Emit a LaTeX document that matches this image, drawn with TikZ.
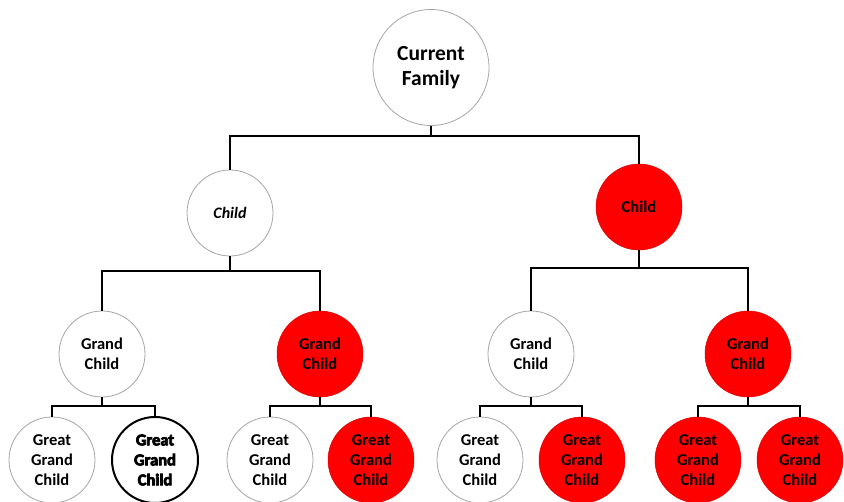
\documentclass[tikz,border=0pt]{standalone}
\usepackage{fontspec}
\setmainfont{Carlito}
\newfontfamily\heavyfont{Carlito Bold}[FakeBold=4.5]
\tikzset{
  member/.style={circle, minimum size=86pt, inner sep=0pt, align=center, text=black,
    font=\bfseries\fontsize{16.5}{20}\selectfont},
  plain/.style={member, draw=black!35, line width=0.8pt, fill=white},
  marked/.style={member, draw=red!85!black, line width=0.5pt, fill=red},
  link/.style={line width=2pt}
}
\begin{document}
\begin{tikzpicture}[x=1pt, y=-1pt]
  \useasboundingbox (0,0) rectangle (844,502);

  % generations, top to bottom
  \node[plain, minimum size=116pt, font=\bfseries\fontsize{21.5}{25}\selectfont] (root) at (431,67.5) {Current\\Family};
  \node[plain, font=\bfseries\itshape\fontsize{16}{20}\selectfont] (c1) at (230,213) {Child};
  \node[marked] (c2) at (639,207) {Child};

  \node[plain] (g1) at (102,354) {Grand\\Child};
  \node[marked] (g2) at (320,354) {Grand\\Child};
  \node[plain] (g3) at (531,354) {Grand\\Child};
  \node[marked] (g4) at (748,354) {Grand\\Child};

  \node[plain] (gg1) at (52,460) {Great\\Grand\\Child};
  \node[plain, draw=black, line width=2pt, font=\heavyfont\fontsize{16.5}{20}\selectfont] (gg2) at (155,460) {Great\\Grand\\Child};
  \node[plain] (gg3) at (270,460) {Great\\Grand\\Child};
  \node[marked] (gg4) at (371,460) {Great\\Grand\\Child};
  \node[plain] (gg5) at (480,460) {Great\\Grand\\Child};
  \node[marked] (gg6) at (582,460) {Great\\Grand\\Child};
  \node[marked] (gg7) at (698,460) {Great\\Grand\\Child};
  \node[marked] (gg8) at (800,460) {Great\\Grand\\Child};

  % elbow links
  \draw[link] (root.south) -- ++(0,10) -| (c1.north);
  \draw[link] (root.south) -- ++(0,10) -| (c2.north);
  \draw[link] (c1.south) -- ++(0,15) -| (g1.north);
  \draw[link] (c1.south) -- ++(0,15) -| (g2.north);
  \draw[link] (c2.south) -- ++(0,17.5) -| (g3.north);
  \draw[link] (c2.south) -- ++(0,17.5) -| (g4.north);
  \foreach \p/\a/\b in {g1/gg1/gg2, g2/gg3/gg4, g3/gg5/gg6, g4/gg7/gg8} {
    \draw[link] (\p.south) -- ++(0,9) -| (\a.north);
    \draw[link] (\p.south) -- ++(0,9) -| (\b.north);
  }
\end{tikzpicture}
\end{document}
